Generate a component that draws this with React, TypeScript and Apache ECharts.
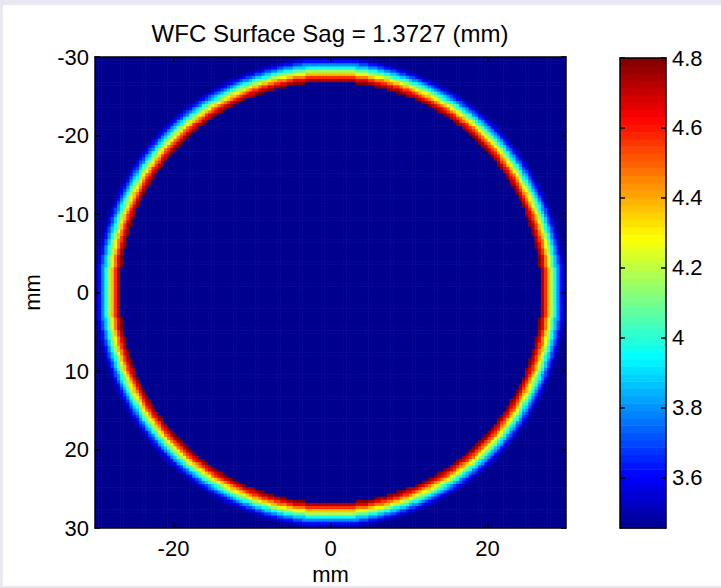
import React, { useEffect, useRef } from 'react';
import * as echarts from 'echarts';

// ---- chart content ----
const titleText = 'WFC Surface Sag = 1.3727 (mm)';
const xAxisName = 'mm';
const yAxisName = 'mm';
const xTicks = [-20, 0, 20];
const yTicks = [-30, -20, -10, 0, 10, 20, 30];
const colorTicks = [3.6, 3.8, 4, 4.2, 4.4, 4.6, 4.8];
const axisMin = -30;
const axisMax = 30;
const valueMin = 3.457; // bottom of the colour bar
const valueMax = 4.8; // top of the colour bar
const baseValue = 3.457; // value inside and outside the ring
const cellSize = 0.4; // mm, grid sampling of the surface

// radial profile of the ring (radius in mm where each band starts -> value)
const profileRadius = [26.8, 27.0, 27.2, 27.4, 27.6, 27.8, 28.0, 28.2, 28.4, 28.6, 28.8, 29.0, 29.2, 29.4, 29.6, 29.8];
const profileValue = [4.8, 4.74, 4.66, 4.57, 4.47, 4.37, 4.27, 4.17, 4.07, 3.97, 3.88, 3.79, 3.7, 3.62, 3.55, 3.49];
const ringOuterRadius = 30.0;

// MATLAB jet colormap (64 levels)
function jetColors(n: number): string[] {
  const out: string[] = [];
  const clamp = (v: number) => Math.max(0, Math.min(1, v));
  const hex = (v: number) => Math.round(clamp(v) * 255).toString(16).padStart(2, '0');
  for (let k = 1; k <= n; k++) {
    const t = k / n;
    const r = 1.5 - Math.abs(4 * t - 3);
    const g = 1.5 - Math.abs(4 * t - 2);
    const b = 1.5 - Math.abs(4 * t - 1);
    out.push('#' + hex(r) + hex(g) + hex(b));
  }
  return out;
}
const jet = jetColors(64);

function lookup(r: number): number {
  if (r < profileRadius[0] || r >= ringOuterRadius) return baseValue;
  let idx = 0;
  for (let k = 0; k < profileRadius.length; k++) {
    if (r >= profileRadius[k]) idx = k;
  }
  return profileValue[idx];
}

function buildSurface(): number[][] {
  const data: number[][] = [];
  const n = Math.round((axisMax - axisMin) / cellSize);
  for (let i = 0; i < n; i++) {
    const x = axisMin + (i + 0.5) * cellSize;
    for (let j = 0; j < n; j++) {
      const y = axisMin + (j + 0.5) * cellSize;
      data.push([x, y, lookup(Math.sqrt(x * x + y * y))]);
    }
  }
  return data;
}

function buildColorbar(): number[][] {
  const data: number[][] = [];
  const levels = jet.length;
  const step = (valueMax - valueMin) / levels;
  for (let k = 0; k < levels; k++) {
    const lo = valueMin + k * step;
    data.push([lo, lo + step, lo + step / 2]);
  }
  return data;
}

const FONT = 'Liberation Sans';
const FS = 22;

export default function App() {
  const ref = useRef<HTMLDivElement>(null);
  useEffect(() => {
    if (!ref.current) return;
    const chart = echarts.init(ref.current, undefined, { renderer: 'svg' });
    const surface = buildSurface();
    const bar = buildColorbar();
    const half = cellSize / 2;
    const tickStyle = { show: true, inside: true, length: 5, lineStyle: { color: '#000', width: 1.5 } };
    const lineStyle = { show: true, onZero: false, lineStyle: { color: '#000', width: 1.5 } };
    const labelStyle = { color: '#000', fontSize: FS, fontFamily: FONT };

    chart.setOption({
      animation: false,
      backgroundColor: '#ffffff',
      textStyle: { fontFamily: FONT },
      grid: [
        { left: 95, top: 57, width: 471, height: 471, show: false, containLabel: false, outerBoundsMode: 'none' },
        { left: 620, top: 58, width: 46, height: 470, show: false, containLabel: false, outerBoundsMode: 'none' },
      ],
      visualMap: {
        type: 'continuous',
        show: false,
        min: valueMin,
        max: valueMax,
        dimension: 2,
        seriesIndex: [0, 1],
        inRange: { color: jet },
      },
      xAxis: [
        {
          gridIndex: 0, type: 'value', min: axisMin, max: axisMax, position: 'bottom', z: 10,
          axisLine: lineStyle, splitLine: { show: false },
          axisTick: { ...tickStyle, customValues: xTicks },
          axisLabel: { ...labelStyle, margin: 9, customValues: xTicks },
          name: xAxisName, nameLocation: 'middle', nameGap: 33,
          nameTextStyle: { ...labelStyle },
        },
        {
          gridIndex: 0, type: 'value', min: axisMin, max: axisMax, position: 'top', z: 10,
          axisLine: lineStyle, splitLine: { show: false },
          axisTick: { ...tickStyle, customValues: xTicks },
          axisLabel: { show: false },
        },
        {
          gridIndex: 1, type: 'value', min: 0, max: 1, position: 'bottom', z: 10,
          axisLine: lineStyle, axisTick: { show: false }, axisLabel: { show: false }, splitLine: { show: false },
        },
        {
          gridIndex: 1, type: 'value', min: 0, max: 1, position: 'top', z: 10,
          axisLine: lineStyle, axisTick: { show: false }, axisLabel: { show: false }, splitLine: { show: false },
        },
      ],
      yAxis: [
        {
          gridIndex: 0, type: 'value', min: axisMin, max: axisMax, interval: 10, inverse: true, position: 'left', z: 10,
          axisLine: lineStyle, splitLine: { show: false },
          axisTick: { ...tickStyle, customValues: yTicks },
          axisLabel: { ...labelStyle, margin: 6, customValues: yTicks },
          name: yAxisName, nameLocation: 'middle', nameGap: 52, nameRotate: 90,
          nameTextStyle: { ...labelStyle },
        },
        {
          gridIndex: 0, type: 'value', min: axisMin, max: axisMax, interval: 10, inverse: true, position: 'right', z: 10,
          axisLine: lineStyle, splitLine: { show: false },
          axisTick: { ...tickStyle, customValues: yTicks },
          axisLabel: { show: false },
        },
        {
          gridIndex: 1, type: 'value', min: valueMin, max: valueMax, position: 'right', z: 10,
          axisLine: lineStyle, splitLine: { show: false },
          axisTick: { ...tickStyle, customValues: colorTicks },
          axisLabel: { ...labelStyle, margin: 6, customValues: colorTicks, formatter: (v: number) => String(v) },
        },
        {
          gridIndex: 1, type: 'value', min: valueMin, max: valueMax, position: 'left', z: 10,
          axisLine: lineStyle, splitLine: { show: false },
          axisTick: { ...tickStyle, customValues: colorTicks },
          axisLabel: { show: false },
        },
      ],
      series: [
        {
          type: 'custom',
          xAxisIndex: 0,
          yAxisIndex: 0,
          data: surface,
          progressive: 0,
          clip: true,
          encode: { x: 0, y: 1 },
          renderItem: (params: any, api: any) => {
            const x = api.value(0);
            const y = api.value(1);
            const p0 = api.coord([x - half, y - half]);
            const p1 = api.coord([x + half, y + half]);
            return {
              type: 'rect',
              shape: {
                x: Math.min(p0[0], p1[0]),
                y: Math.min(p0[1], p1[1]),
                width: Math.abs(p1[0] - p0[0]) + 0.6,
                height: Math.abs(p1[1] - p0[1]) + 0.6,
              },
              style: { fill: api.visual('color') },
            };
          },
        },
        {
          type: 'custom',
          xAxisIndex: 2,
          yAxisIndex: 2,
          data: bar,
          progressive: 0,
          encode: { y: [0, 1] },
          renderItem: (params: any, api: any) => {
            const lo = api.value(0);
            const hi = api.value(1);
            const p0 = api.coord([0, lo]);
            const p1 = api.coord([1, hi]);
            return {
              type: 'rect',
              shape: {
                x: Math.min(p0[0], p1[0]),
                y: Math.min(p0[1], p1[1]),
                width: Math.abs(p1[0] - p0[0]),
                height: Math.abs(p1[1] - p0[1]) + 0.6,
              },
              style: { fill: api.visual('color') },
            };
          },
        },
      ],
      graphic: [
        {
          type: 'text', x: 330, y: 33, z: 50,
          style: { text: titleText, fill: '#000', fontSize: 24, fontFamily: FONT, align: 'center', verticalAlign: 'middle' },
        },
        { type: 'rect', z: 100, shape: { x: 0, y: 0, width: 721, height: 5 }, style: { fill: '#e8e8f2' } },
        { type: 'rect', z: 100, shape: { x: 0, y: 0, width: 3, height: 588 }, style: { fill: '#e8e8f2' } },
        { type: 'rect', z: 100, shape: { x: 0, y: 586, width: 721, height: 2 }, style: { fill: '#ece8ee' } },
      ],
    });
    return () => chart.dispose();
  }, []);
  return <div ref={ref} style={{ position: 'absolute', left: 0, top: 0, width: 721, height: 588 }} />;
}
